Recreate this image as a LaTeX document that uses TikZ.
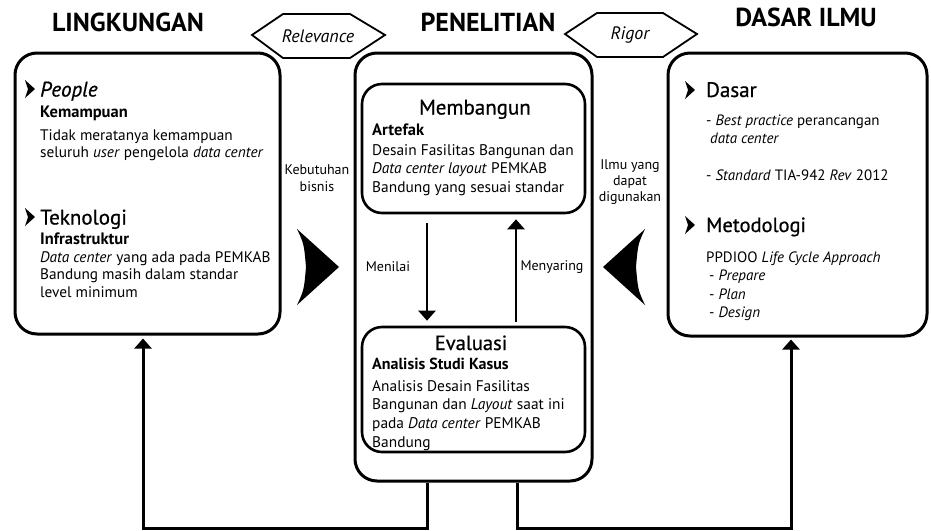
\documentclass[tikz,border=0pt]{standalone}
\usepackage{fontspec}
\setmainfont{PT Sans}
\newfontfamily\headfont[FakeBold=0.7]{PT Sans}
\usetikzlibrary{arrows.meta}
\begin{document}
\begin{tikzpicture}[x=1pt,y=-1pt,
  title/.style={font=\bfseries\fontsize{26}{28}\selectfont, anchor=base, inner sep=0},
  panel/.style={draw, line width=3pt, rounded corners=22pt, inner sep=0},
  subpanel/.style={draw, line width=2.6pt, rounded corners=20pt, inner sep=0},
  hexline/.style={draw, line width=1.8pt, fill=white, line join=miter},
  hextext/.style={font=\itshape\fontsize{18}{20}\selectfont, inner sep=0},
  head/.style={font=\headfont\fontsize{21}{24}\selectfont, anchor=base west, inner sep=0},
  boxhead/.style={font=\headfont\fontsize{21}{24}\selectfont, anchor=base, inner sep=0},
  sub/.style={font=\bfseries\fontsize{16.5}{19}\selectfont, anchor=base west, inner sep=0},
  body/.style={font=\fontsize{15.3}{17}\selectfont, align=left, anchor=north west, inner sep=0},
  side/.style={font=\fontsize{14}{16.5}\selectfont, align=center, inner sep=0},
  arr/.style={line width=2.6pt, -{Triangle[width=17pt,length=10pt]}},
  loop/.style={line width=3pt, -{Triangle[width=17pt,length=10pt]}},
  bullet/.style={fill=black, draw=none}
]
\useasboundingbox (0,0) rectangle (931,530);

% column titles
\node[title] (tl) at (128,31) {LINGKUNGAN};
\node[title] (tc) at (488,31) {PENELITIAN};
\node[title] (tr) at (806,27) {DASAR ILMU};

% main panels
\node[panel, minimum width=265pt, minimum height=281pt] (L) at (147.5,193.5) {};
\node[panel, minimum width=237pt, minimum height=428pt] (C) at (473.5,267) {};
\node[panel, minimum width=259pt, minimum height=283pt] (R) at (797.5,194.5) {};

% inner boxes of the research column
\node[subpanel, minimum width=223pt, minimum height=129pt] (M) at (473.5,148.5) {};
\node[subpanel, minimum width=223pt, minimum height=125pt] (E) at (473.5,389.5) {};

% hexagon labels
\draw[hexline] (252,35) -- (283,14) -- (350,14) -- (385,35) -- (350,58) -- (283,58) -- cycle;
\node[hextext] (rel) at (318,36) {Relevance};
\draw[hexline] (565,34) -- (597,13) -- (663,13) -- (697,34) -- (663,57) -- (597,57) -- cycle;
\node[hextext] (rig) at (630,35) {Rigor};

% left panel: environment
\path[bullet] (25,80) -- (35,89) -- (25,98) -- (28,89) -- cycle;
\node[head] (people) at (40,96.5) {\itshape People};
\node[sub] (kem) at (40,117.5) {Kemampuan};
\node[body] (kemtx) at (40,129) {Tidak meratanya kemampuan\\seluruh \textit{user} pengelola \textit{data center}};
\path[bullet] (25,208) -- (35,217) -- (25,226) -- (28,217) -- cycle;
\node[head] (tek) at (40,224.5) {Teknologi};
\node[sub] (inf) at (40,244) {Infrastruktur};
\node[body, font=\fontsize{15.3}{17.5}\selectfont] (inftx) at (40,251) {\textit{Data center} yang ada pada PEMKAB\\Bandung masih dalam standar\\level minimum};

% research column: build
\node[boxhead] (mb) at (475,114.5) {Membangun};
\node[sub] (art) at (372,135) {Artefak};
\node[body, font=\fontsize{15.4}{18.5}\selectfont] (arttx) at (372,144) {Desain Fasilitas Bangunan dan\\\textit{Data center layout} PEMKAB\\Bandung yang sesuai standar};

% research column: evaluate
\node[boxhead, font=\headfont\fontsize{20.5}{24}\selectfont] (ev) at (471,350) {Evaluasi};
\node[sub, font=\bfseries\fontsize{16}{19}\selectfont] (ask) at (372,369) {Analisis Studi Kasus};
\node[body, font=\fontsize{15.4}{18.7}\selectfont] (asktx) at (372,380) {Analisis Desain Fasilitas\\Bangunan dan \textit{Layout} saat ini\\pada \textit{Data center} PEMKAB\\Bandung};

% right panel: knowledge base
\path[bullet] (685,81) -- (695,90) -- (685,99) -- (688,90) -- cycle;
\node[head] (das) at (706,97) {Dasar};
\node[body, font=\fontsize{15}{18}\selectfont] (bp) at (706,114.2) {- \textit{Best practice} perancangan\\\hspace*{4pt}\textit{data center}};
\node[body, font=\fontsize{15}{18}\selectfont, anchor=base west] (std) at (706,180) {- \textit{Standard} TIA-942 \textit{Rev} 2012};
\path[bullet] (685,216) -- (695,225) -- (685,234) -- (688,225) -- cycle;
\node[head, font=\headfont\fontsize{20.5}{24}\selectfont] (met) at (706,232) {Metodologi};
\node[body, font=\fontsize{15}{18.5}\selectfont] (ppd) at (706,251.2) {PPDIOO \textit{Life Cycle Approach}\\\hspace*{3pt}- \textit{Prepare}\\\hspace*{3pt}- \textit{Plan}\\\hspace*{3pt}- \textit{Design}};

% side labels
\node[side] (keb) at (317,178) {Kebutuhan\\bisnis};
\node[side, font=\fontsize{14}{16}\selectfont] (ilmu) at (630,182) {Ilmu yang\\dapat\\digunakan};
\node[side] (nil) at (388,267) {Menilai};
\node[side] (nyr) at (552,267) {Menyaring};

% large flow arrowheads
\path[bullet] (297,229) -- (339,267) -- (297,305) .. controls (304,290) .. (306,267) .. controls (304,244) .. (297,229) -- cycle;
\path[bullet] (645,229) -- (603,267) -- (645,305) .. controls (638,290) .. (636,267) .. controls (638,244) .. (645,229) -- cycle;

% build / evaluate cycle
\draw[arr] ([xshift=-46.5pt,yshift=-9pt]M.south) -- ([xshift=-46.5pt,yshift=5pt]E.north);
\draw[arr] ([xshift=42.5pt,yshift=4pt]E.north) -- ([xshift=42.5pt,yshift=-5pt]M.south);

% feedback loops to environment and knowledge base
\draw[loop] ([xshift=-46.5pt]C.south) -- ++(0,46) -| ([xshift=-4.5pt,yshift=-3pt]L.south);
\draw[loop] ([xshift=43.5pt]C.south) -- ++(0,46) -| ([xshift=-6.5pt,yshift=-2pt]R.south);
\end{tikzpicture}
\end{document}
